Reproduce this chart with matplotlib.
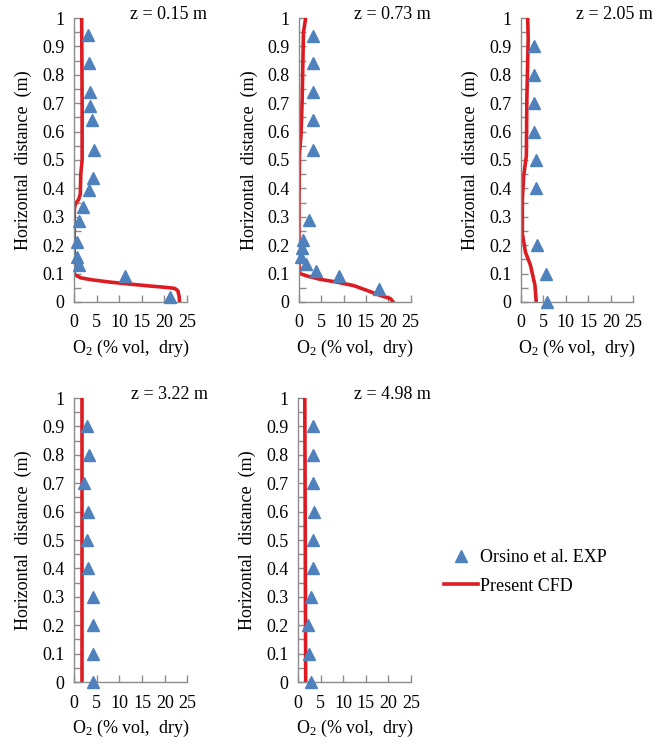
import matplotlib.pyplot as plt
from matplotlib.ticker import MultipleLocator
from matplotlib.lines import Line2D

plt.rcParams['font.family'] = ['Liberation Serif', 'DejaVu Serif']
plt.rcParams['mathtext.fontset'] = 'custom'
plt.rcParams['mathtext.rm'] = 'Liberation Serif'
plt.rcParams['mathtext.it'] = 'Liberation Serif:italic'

# measured O2 (Orsino et al.) at each height z
exp_x_015 = [3.0, 3.25, 3.55, 3.55, 3.9, 4.5, 4.2, 3.3, 2.1, 1.1, 0.7, 0.7, 1.1, 11.2, 21.3]
exp_y_015 = [0.94, 0.84, 0.74, 0.69, 0.64, 0.535, 0.435, 0.395, 0.335, 0.285, 0.21, 0.16, 0.13, 0.09, 0.018]
exp_x_073 = [3.1, 3.1, 3.1, 3.1, 3.1, 2.3, 1.0, 0.6, 0.5, 1.6, 3.8, 9.0, 17.9]
exp_y_073 = [0.938, 0.84, 0.74, 0.64, 0.535, 0.287, 0.217, 0.19, 0.16, 0.135, 0.11, 0.09, 0.047]
exp_x_205 = [3.0, 3.0, 3.0, 3.0, 3.25, 3.25, 3.55, 5.6, 5.85]
exp_y_205 = [0.9, 0.8, 0.7, 0.6, 0.5, 0.4, 0.2, 0.1, 0.0]
exp_x_322 = [2.8, 3.3, 2.3, 3.15, 2.9, 3.0, 4.1, 4.1, 4.1, 4.1]
exp_y_322 = [0.9, 0.8, 0.7, 0.6, 0.5, 0.4, 0.3, 0.2, 0.1, 0.0]
exp_x_498 = [3.4, 3.4, 3.4, 3.6, 3.4, 3.4, 2.8, 2.3, 2.45, 2.8]
exp_y_498 = [0.9, 0.8, 0.7, 0.6, 0.5, 0.4, 0.3, 0.2, 0.1, 0.0]

# CFD profiles
cfd_x_015 = [1.7, 1.8, 1.8, 1.5, 1.4, 1.0, 0.3, 0.1, 0.05, 0.05, 0.3, 1.5, 4.0, 8.0, 13.0, 17.0, 20.0, 22.3, 23.0, 23.3, 23.4]
cfd_y_015 = [1.0, 0.7, 0.5, 0.45, 0.38, 0.36, 0.345, 0.33, 0.3, 0.1, 0.095, 0.085, 0.078, 0.07, 0.062, 0.056, 0.052, 0.048, 0.04, 0.02, 0.0]
cfd_x_073 = [1.5, 1.0, 0.7, 0.45, 0.1, 0.0, 0.0, 0.2, 1.7, 4.7, 8.5, 12.2, 15.2, 18.2, 20.5, 21.1]
cfd_y_073 = [1.0, 0.95, 0.71, 0.59, 0.52, 0.357, 0.13, 0.10, 0.092, 0.08, 0.07, 0.058, 0.041, 0.023, 0.012, 0.0]
cfd_x_205 = [1.5, 1.6, 1.3, 1.2, 0.6, 0.3, 0.3, 1.0, 2.1, 3.1, 3.4]
cfd_y_205 = [1.0, 0.925, 0.71, 0.515, 0.445, 0.36, 0.24, 0.175, 0.13, 0.06, 0.0]
cfd_x_322 = [1.7, 1.7]
cfd_y_322 = [1.0, 0.0]
cfd_x_498 = [1.5, 1.6, 1.7]
cfd_y_498 = [1.0, 0.5, 0.0]

heights = ['z = 0.15 m', 'z = 0.73 m', 'z = 2.05 m', 'z = 3.22 m', 'z = 4.98 m']
exp_x = [exp_x_015, exp_x_073, exp_x_205, exp_x_322, exp_x_498]
exp_y = [exp_y_015, exp_y_073, exp_y_205, exp_y_322, exp_y_498]
cfd_x = [cfd_x_015, cfd_x_073, cfd_x_205, cfd_x_322, cfd_x_498]
cfd_y = [cfd_y_015, cfd_y_073, cfd_y_205, cfd_y_322, cfd_y_498]

exp_color = '#4F81BD'
cfd_color = '#DC1C22'
axis_color = '#8C8C8C'
fs = 13

fig = plt.figure(figsize=(6.56, 7.44), dpi=100)
positions = [
    [0.1128, 0.5941, 0.172, 0.3817],
    [0.4558, 0.5941, 0.170, 0.3817],
    [0.7942, 0.5941, 0.171, 0.3817],
    [0.1128, 0.0833, 0.173, 0.3817],
    [0.4543, 0.0833, 0.172, 0.3817],
]

for i, pos in enumerate(positions):
    ax = fig.add_axes(pos)
    ax.plot(cfd_x[i], cfd_y[i], color=cfd_color, lw=2.6, zorder=2)
    ax.plot(exp_x[i], exp_y[i], linestyle='none', marker='^', ms=8,
            color=exp_color, zorder=3, clip_on=False)
    ax.set_xlim(0, 25)
    ax.set_ylim(0, 1)
    ax.xaxis.set_major_locator(MultipleLocator(5))
    ax.yaxis.set_minor_locator(MultipleLocator(0.05))
    ax.set_yticks([k / 10 for k in range(11)])
    ax.set_yticklabels(['0'] + ['0.%d' % k for k in range(1, 10)] + ['1'])
    for side in ('top', 'right'):
        ax.spines[side].set_visible(False)
    for side in ('left', 'bottom'):
        ax.spines[side].set_color(axis_color)
        ax.spines[side].set_linewidth(1.0)
    ax.tick_params(axis='both', which='both', direction='in', color=axis_color,
                   labelsize=fs, width=1.0)
    ax.tick_params(axis='both', which='major', length=5)
    ax.tick_params(axis='y', which='minor', length=5)
    ax.tick_params(axis='x', pad=9)
    ax.tick_params(axis='y', pad=7)
    ax.set_xlabel('O$_2$ (% vol,  dry)', fontsize=fs)
    ax.xaxis.set_label_coords(0.5, -0.125)
    ax.set_ylabel('Horizontal  distance  (m)', fontsize=fs)
    ax.yaxis.set_label_coords(-0.37, 0.5)
    ax.text(1.18, 1.012, heights[i], transform=ax.transAxes, ha='right',
            va='center', fontsize=fs)

handles = [
    Line2D([], [], linestyle='none', marker='^', ms=8, color=exp_color),
    Line2D([], [], color=cfd_color, lw=2.6),
]
fig.legend(handles, ['Orsino et al. EXP', 'Present CFD'], loc='upper left',
           bbox_to_anchor=(444 / 656, 1 - 549 / 744), frameon=False,
           fontsize=fs, handlelength=1.9, handletextpad=0.1,
           labelspacing=0.65, borderpad=0, borderaxespad=0)

fig.savefig('out.png', dpi=100)
